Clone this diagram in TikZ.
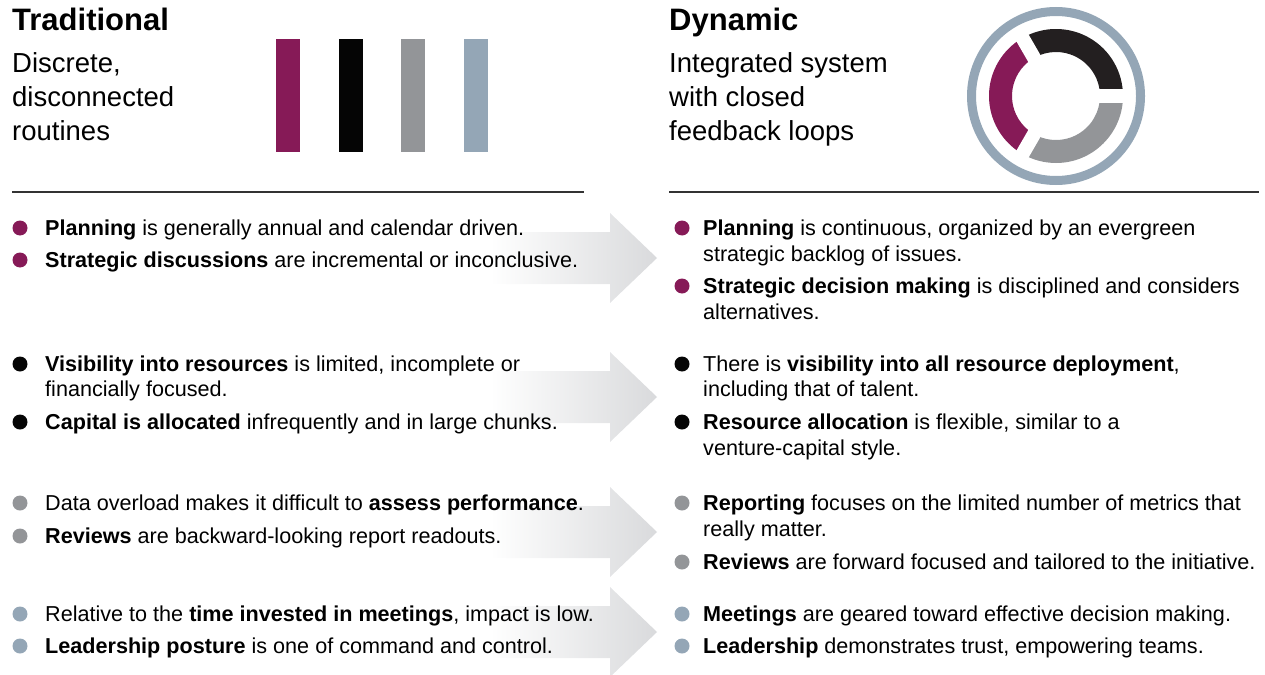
\documentclass[tikz,border=0pt]{standalone}
\usepackage{fontspec}
\setmainfont{Liberation Sans}
\usetikzlibrary{calc}
\definecolor{cpurple}{HTML}{861A57}
\definecolor{cblack}{HTML}{050505}
\definecolor{cring}{HTML}{231F20}
\definecolor{cgray}{HTML}{939598}
\definecolor{cblue}{HTML}{94A6B6}
\definecolor{carrow}{HTML}{D9DADC}
\definecolor{cline}{HTML}{333333}
\begin{document}
\begin{tikzpicture}[x=1pt,y=-1pt,
  title/.style={anchor=base west,inner sep=0pt,font=\fontsize{31}{35}\selectfont\bfseries},
  sub/.style={anchor=base west,inner sep=0pt,font=\fontsize{27.5}{33.5}\selectfont},
  txt/.style={anchor=base west,inner sep=0pt,font=\fontsize{21.6}{26}\selectfont},
  dot/.style={circle,inner sep=0pt,minimum size=15pt},
  bar/.style={inner sep=0pt,minimum width=24pt,minimum height=113pt},
  rule/.style={draw=cline,line width=1.6pt},
  arr/.style={left color=white,right color=carrow,shading angle=90}
]
\useasboundingbox (0,0) rectangle (1265,674);
% headers
\node[title] (tradT) at (12,31) {Traditional};
\node[sub] (tradS1) at (12,73) {Discrete,};
\node[sub] (tradS2) at (12,106.5) {disconnected};
\node[sub] (tradS3) at (12,140) {routines};
\node[title] (dynT) at (669,31) {Dynamic};
\node[sub] (dynS1) at (669,73) {Integrated system};
\node[sub] (dynS2) at (669,106.5) {with closed};
\node[sub] (dynS3) at (669,140) {feedback loops};
% bars
\node[bar,fill=cpurple] (b1) at (288,95.5) {};
\node[bar,fill=cblack] (b2) at (351,95.5) {};
\node[bar,fill=cgray] (b3) at (413,95.5) {};
\node[bar,fill=cblue] (b4) at (476,95.5) {};
% ring
\coordinate (rc) at (1056,96);
\draw[cblue,line width=9pt] (rc) circle[radius=84.5];
\fill[cring] ($(rc)+(-120:67)$) arc[start angle=-120,end angle=0,radius=67] -- ($(rc)+(0:44)$) arc[start angle=0,end angle=-120,radius=44] -- cycle;
\fill[cgray] ($(rc)+(0:67)$) arc[start angle=0,end angle=120,radius=67] -- ($(rc)+(120:44)$) arc[start angle=120,end angle=0,radius=44] -- cycle;
\fill[cpurple] ($(rc)+(120:67)$) arc[start angle=120,end angle=240,radius=67] -- ($(rc)+(240:44)$) arc[start angle=240,end angle=120,radius=44] -- cycle;
\foreach \a in {0,120,240} \draw[white,line width=14pt] (rc) -- ++(\a:72);
% rules
\coordinate (l1) at (12,192); \coordinate (l2) at (584,192);
\coordinate (r1) at (669,192); \coordinate (r2) at (1259,192);
\draw[rule] (l1) -- (l2);
\draw[rule] (r1) -- (r2);
% arrows
\foreach \t in {258,397,532,632}{
  \shade[arr] (490,\t-26) -- (610,\t-26) -- (610,\t-45) -- (657,\t) -- (610,\t+45) -- (610,\t+26) -- (490,\t+26) -- cycle;
}
% left bullets
\node[dot,fill=cpurple] (ld1) at (20,228) {};
\node[txt] (lt1) at (45,235.5) {\textbf{Planning} is generally annual and calendar driven.};
\node[dot,fill=cpurple] (ld2) at (20,260) {};
\node[txt] (lt2) at (45,267.5) {\textbf{Strategic discussions} are incremental or inconclusive.};
\node[dot,fill=cblack] (ld3) at (20,364) {};
\node[txt] (lt3) at (45,371.5) {\textbf{Visibility into resources} is limited, incomplete or};
\node[txt] (lt3b) at (45,396.5) {financially focused.};
\node[dot,fill=cblack] (ld4) at (20,422) {};
\node[txt] (lt4) at (45,429.5) {\textbf{Capital is allocated} infrequently and in large chunks.};
\node[dot,fill=cgray] (ld5) at (20,503) {};
\node[txt] (lt5) at (45,510.5) {Data overload makes it difficult to \textbf{assess performance}.};
\node[dot,fill=cgray] (ld6) at (20,536) {};
\node[txt] (lt6) at (45,543.5) {\textbf{Reviews} are backward-looking report readouts.};
\node[dot,fill=cblue] (ld7) at (20,614) {};
\node[txt] (lt7) at (45,621.5) {Relative to the \textbf{time invested in meetings}, impact is low.};
\node[dot,fill=cblue] (ld8) at (20,646) {};
\node[txt] (lt8) at (45,653.5) {\textbf{Leadership posture} is one of command and control.};
% right bullets
\node[dot,fill=cpurple] (rd1) at (682,228) {};
\node[txt] (rt1) at (703,235.5) {\textbf{Planning} is continuous, organized by an evergreen};
\node[txt] (rt1b) at (703,261.5) {strategic backlog of issues.};
\node[dot,fill=cpurple] (rd2) at (682,286) {};
\node[txt] (rt2) at (703,293.5) {\textbf{Strategic decision making} is disciplined and considers};
\node[txt] (rt2b) at (703,319.5) {alternatives.};
\node[dot,fill=cblack] (rd3) at (682,364) {};
\node[txt] (rt3) at (703,371.5) {There is \textbf{visibility into all resource deployment},};
\node[txt] (rt3b) at (703,396.5) {including that of talent.};
\node[dot,fill=cblack] (rd4) at (682,422) {};
\node[txt] (rt4) at (703,429.5) {\textbf{Resource allocation} is flexible, similar to a};
\node[txt] (rt4b) at (703,455.5) {venture-capital style.};
\node[dot,fill=cgray] (rd5) at (682,503) {};
\node[txt] (rt5) at (703,510.5) {\textbf{Reporting} focuses on the limited number of metrics that};
\node[txt] (rt5b) at (703,536.5) {really matter.};
\node[dot,fill=cgray] (rd6) at (682,562) {};
\node[txt] (rt6) at (703,569.5) {\textbf{Reviews} are forward focused and tailored to the initiative.};
\node[dot,fill=cblue] (rd7) at (682,614) {};
\node[txt] (rt7) at (703,621.5) {\textbf{Meetings} are geared toward effective decision making.};
\node[dot,fill=cblue] (rd8) at (682,646) {};
\node[txt] (rt8) at (703,653.5) {\textbf{Leadership} demonstrates trust, empowering teams.};
\end{tikzpicture}
\end{document}
